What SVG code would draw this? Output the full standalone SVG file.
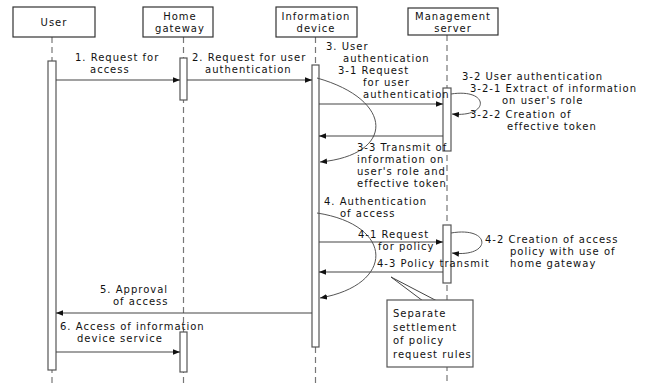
<svg xmlns="http://www.w3.org/2000/svg" width="650" height="383" viewBox="0 0 650 383">
  <style>
    text { font-family: "DejaVu Sans", "Liberation Sans", sans-serif; font-size: 10px; letter-spacing: 1px; fill: #111; }
    .head { fill: #fff; stroke: #333; stroke-width: 1.2; }
    .life { stroke: #777; stroke-width: 1.2; stroke-dasharray: 6 4; fill: none; }
    .act { fill: #fff; stroke: #555; stroke-width: 1.2; }
    .msg { stroke: #444; stroke-width: 1.2; fill: none; marker-end: url(#arr); }
    .curve { stroke: #555; stroke-width: 1; fill: none; marker-end: url(#arr); }
    .note { fill: #fff; stroke: #555; stroke-width: 1.2; }
    .ptr { stroke: #444; stroke-width: 1; fill: none; }
  </style>
  <defs>
    <marker id="arr" viewBox="0 0 10 10" refX="10" refY="5" markerWidth="7" markerHeight="7" markerUnits="userSpaceOnUse" orient="auto">
      <path d="M0,1 L10,5 L0,9 Z" fill="#111"/>
    </marker>
  </defs>

  <!-- lifelines -->
  <g id="lifelines">
    <line class="life" x1="52" y1="37" x2="52" y2="383"/>
    <line class="life" x1="183.5" y1="37" x2="183.5" y2="383"/>
    <line class="life" x1="315.5" y1="37" x2="315.5" y2="383"/>
    <line class="life" x1="447" y1="35" x2="447" y2="383"/>
  </g>

  <!-- participants -->
  <g id="user">
    <rect class="head" x="13" y="7" width="82" height="30"/>
    <text x="54" y="26" text-anchor="middle">User</text>
    <rect class="act" x="48" y="61" width="8" height="309"/>
  </g>
  <g id="home-gateway">
    <rect class="head" x="143" y="7" width="70" height="30"/>
    <text text-anchor="middle"><tspan x="180" y="20">Home</tspan><tspan x="180" y="32">gateway</tspan></text>
    <rect class="act" x="180" y="58" width="7" height="42"/>
    <rect class="act" x="180" y="332" width="7" height="40"/>
  </g>
  <g id="information-device">
    <rect class="head" x="276" y="7" width="81" height="30"/>
    <text text-anchor="middle"><tspan x="316" y="20">Information</tspan><tspan x="316" y="32">device</tspan></text>
    <rect class="act" x="312" y="65" width="7" height="282"/>
  </g>
  <g id="management-server">
    <rect class="head" x="408" y="8" width="90" height="27"/>
    <text text-anchor="middle"><tspan x="453" y="20">Management</tspan><tspan x="453" y="32">server</tspan></text>
    <rect class="act" x="443" y="88" width="8" height="63"/>
    <rect class="act" x="443" y="225" width="8" height="58"/>
  </g>

  <!-- messages -->
  <g id="connectors">
    <line class="msg" x1="56" y1="80" x2="180" y2="80"/>
    <line class="msg" x1="187" y1="80" x2="312" y2="80"/>
    <path class="curve" d="M317,78 C395,100 395,155 320,162"/>
    <line class="msg" x1="319" y1="104" x2="443" y2="104"/>
    <path class="curve" d="M451,94 C490,88 490,118 452,114"/>
    <line class="msg" x1="443" y1="136" x2="319" y2="136"/>
    <path class="curve" d="M317,213 C395,225 395,285 320,298"/>
    <line class="msg" x1="319" y1="242" x2="443" y2="242"/>
    <path class="curve" d="M451,233 C492,226 492,258 452,253"/>
    <line class="msg" x1="443" y1="272" x2="319" y2="272"/>
    <line class="msg" x1="312" y1="313" x2="56" y2="313"/>
    <line class="msg" x1="56" y1="352" x2="180" y2="352"/>
  </g>

  <!-- message labels -->
  <g id="labels">
    <text><tspan x="75" y="61">1. Request for</tspan><tspan x="90" y="73">access</tspan></text>
    <text><tspan x="192" y="61">2. Request for user</tspan><tspan x="205" y="73">authentication</tspan></text>
    <text><tspan x="326" y="50">3. User</tspan><tspan x="343" y="62">authentication</tspan></text>
    <text><tspan x="338" y="74">3-1 Request</tspan><tspan x="363" y="86">for user</tspan><tspan x="363" y="98">authentication</tspan></text>
    <text x="462" y="80">3-2 User authentication</text>
    <text><tspan x="470" y="92">3-2-1 Extract of information</tspan><tspan x="502" y="104">on user's role</tspan></text>
    <text><tspan x="470" y="118">3-2-2 Creation of</tspan><tspan x="507" y="130">effective token</tspan></text>
    <text><tspan x="357" y="151">3-3 Transmit of</tspan><tspan x="357" y="163">information on</tspan><tspan x="357" y="175">user's role and</tspan><tspan x="357" y="187">effective token</tspan></text>
    <text><tspan x="324" y="205">4. Authentication</tspan><tspan x="340" y="217">of access</tspan></text>
    <text><tspan x="358" y="238">4-1 Request</tspan><tspan x="378" y="250">for policy</tspan></text>
    <text x="377" y="267">4-3 Policy transmit</text>
    <text><tspan x="485" y="243">4-2 Creation of access</tspan><tspan x="510" y="255">policy with use of</tspan><tspan x="510" y="267">home gateway</tspan></text>
    <text><tspan x="100" y="293">5. Approval</tspan><tspan x="113" y="305">of access</tspan></text>
    <text><tspan x="60" y="330">6. Access of information</tspan><tspan x="77" y="342">device service</tspan></text>
  </g>

  <!-- note -->
  <g id="note">
    <polyline class="ptr" points="423,301 391,277 437,301"/>
    <rect class="note" x="387" y="300" width="86" height="67"/>
    <text><tspan x="393" y="317">Separate</tspan><tspan x="393" y="331">settlement</tspan><tspan x="393" y="344">of policy</tspan><tspan x="393" y="358">request rules</tspan></text>
  </g>
</svg>
